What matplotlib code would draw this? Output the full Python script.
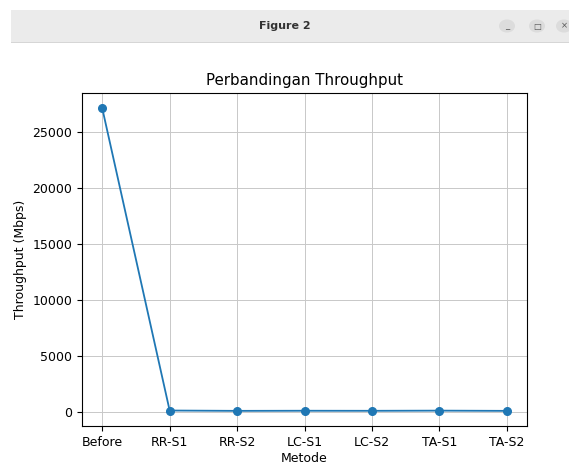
import matplotlib
matplotlib.use("Agg")
import matplotlib.pyplot as plt
from matplotlib.patches import Rectangle, Circle

metode = ["Before", "RR-S1", "RR-S2", "LC-S1", "LC-S2", "TA-S1", "TA-S2"]
throughput = [27100, 90, 60, 70, 65, 80, 60]
yticks = [0, 5000, 10000, 15000, 20000, 25000]

W, H = 569, 466
fig = plt.figure(figsize=(W / 100, H / 100), dpi=100)
fig.patch.set_facecolor("white")

# window title bar
fig.patches.append(Rectangle((11 / W, 1 - 42 / H), 1 - 11 / W, 32 / H,
                             transform=fig.transFigure, facecolor="#ebebeb",
                             edgecolor="none", zorder=0))
fig.patches.append(Rectangle((11 / W, 1 - 43 / H), 1 - 11 / W, 1.2 / H,
                             transform=fig.transFigure, facecolor="#d6d6d6",
                             edgecolor="none", zorder=0))
fig.text(0.5, 1 - 26 / H, "Figure 2", ha="center", va="center", fontsize=8,
         fontweight="bold", color="#333333")
for bx, glyph in [(507, "_"), (537, "□"), (564, "×")]:
    fig.patches.append(Circle((bx / W, 1 - 26 / H), 8 / W,
                              transform=fig.transFigure, facecolor="#dcdcdc",
                              edgecolor="none"))
    fig.text(bx / W, 1 - 26 / H, glyph, ha="center", va="center",
             fontsize=6, color="#555555")

ax = fig.add_axes([82 / W, 40 / H, (527 - 82) / W, (426 - 93) / H])
ax.plot(metode, throughput, marker="o", color="#1f77b4", markersize=5.5,
        linewidth=1.3)
ax.set_yticks(yticks)
ax.grid(True, color="#c8c8c8", linewidth=0.7)
ax.set_title("Perbandingan Throughput", fontsize=10.8, pad=6)
ax.set_xlabel("Metode", fontsize=9, labelpad=2)
ax.set_ylabel("Throughput (Mbps)", fontsize=9)
ax.tick_params(labelsize=9)

fig.savefig("out.png", dpi=100)
